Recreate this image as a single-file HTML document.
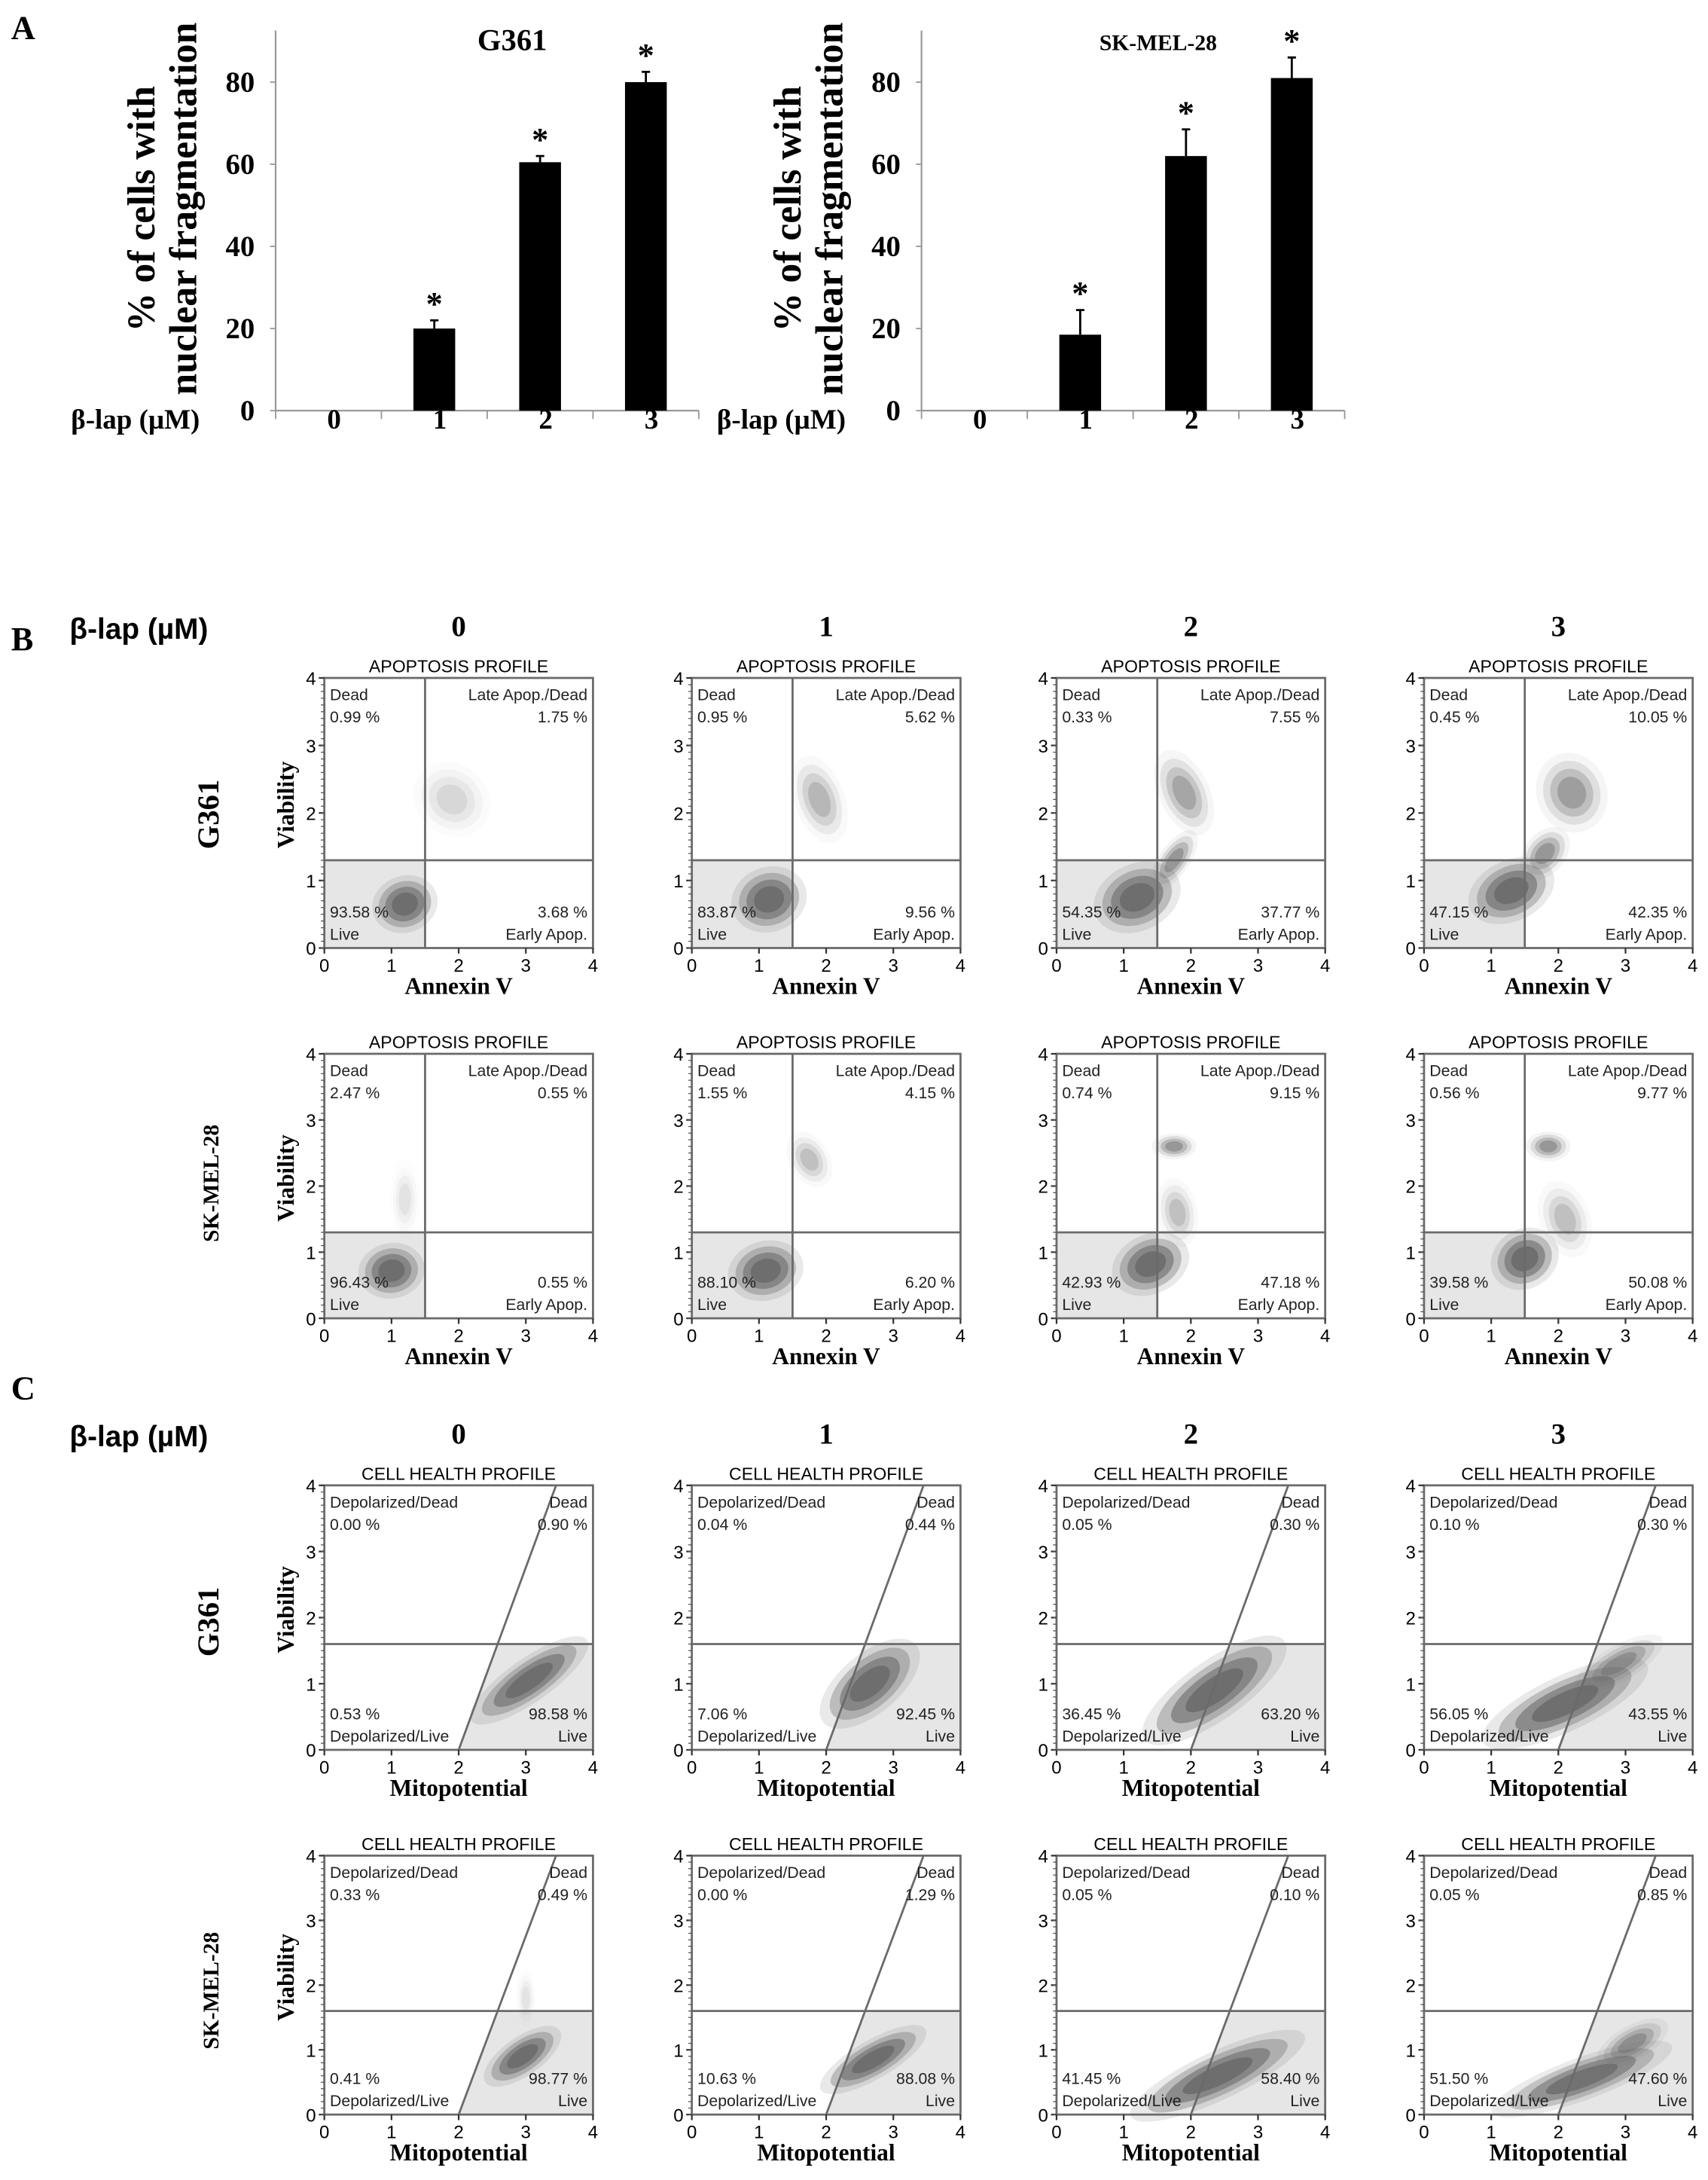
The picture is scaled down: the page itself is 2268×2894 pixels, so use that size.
<!DOCTYPE html>
<html><head><meta charset="utf-8">
<style>
html,body{margin:0;padding:0;background:#fff;}
svg{display:block;}
.ser{font-family:"Liberation Serif",serif;font-weight:bold;}
.sans{font-family:"Liberation Sans",sans-serif;}
</style></head>
<body>
<svg id="fig" xmlns="http://www.w3.org/2000/svg" width="2268" height="2894" viewBox="0 0 1227 1566" preserveAspectRatio="none">
<rect x="0" y="0" width="1227" height="1566" fill="#fff"/>
<text class="ser" x="8" y="28" font-size="24">A</text>
<text class="ser" x="8" y="467" font-size="24">B</text>
<text class="ser" x="8" y="1005" font-size="24">C</text>
<g id="root"></g>
</svg>
<script>
// ---- Panel A data ----
const barCats = ["0","1","2","3"];
const g361Vals = [0, 20, 60.5, 80];
const g361Errs = [0, 2, 1.5, 2.5];
const skVals = [0, 18.5, 62, 81];
const skErrs = [0, 6, 6.5, 5];
const barSig = [false, true, true, true];
const yTicks = [0, 20, 40, 60, 80];

// ---- Panel B (apoptosis) data ----
const doseLabels = ["0","1","2","3"];
const apoG361 = [["0.99","1.75","93.58","3.68"],["0.95","5.62","83.87","9.56"],["0.33","7.55","54.35","37.77"],["0.45","10.05","47.15","42.35"]];
const apoSK = [["2.47","0.55","96.43","0.55"],["1.55","4.15","88.10","6.20"],["0.74","9.15","42.93","47.18"],["0.56","9.77","39.58","50.08"]];
// clusters: [cx, cy, rx, ry, angleDeg, strength]
const apoG361Clusters = [
 [[1.2,0.65,0.33,0.28,20,1],[1.9,2.2,0.35,0.4,50,0.15]],
 [[1.15,0.72,0.38,0.32,20,1],[1.9,2.2,0.25,0.45,20,0.3]],
 [[1.2,0.75,0.45,0.33,25,1],[1.75,1.3,0.35,0.15,55,0.5],[1.9,2.3,0.25,0.45,25,0.4]],
 [[1.3,0.85,0.45,0.3,25,1],[1.8,1.4,0.3,0.2,50,0.5],[2.2,2.3,0.35,0.4,20,0.45]]];
const apoSKClusters = [
 [[1.0,0.72,0.33,0.28,10,1],[1.2,1.8,0.15,0.4,0,0.1]],
 [[1.1,0.72,0.38,0.3,15,1],[1.75,2.4,0.2,0.3,30,0.25]],
 [[1.4,0.82,0.4,0.3,25,1],[1.75,2.6,0.22,0.13,0,0.5],[1.8,1.6,0.2,0.35,10,0.25]],
 [[1.5,0.9,0.35,0.3,30,1],[1.85,2.6,0.22,0.15,0,0.5],[2.1,1.5,0.25,0.4,20,0.25]]];

// ---- Panel C (cell health) data ----
const chG361 = [["0.00","0.90","0.53","98.58"],["0.04","0.44","7.06","92.45"],["0.05","0.30","36.45","63.20"],["0.10","0.30","56.05","43.55"]];
const chSK = [["0.33","0.49","0.41","98.77"],["0.00","1.29","10.63","88.08"],["0.05","0.10","41.45","58.40"],["0.05","0.85","51.50","47.60"]];
const chG361Clusters = [
 [[3.05,1.05,0.7,0.22,35,1]],
 [[2.65,1.0,0.6,0.3,40,1]],
 [[2.35,0.9,0.85,0.3,35,1]],
 [[2.1,0.7,0.9,0.28,25,1],[2.9,1.3,0.5,0.18,30,0.5]]];
const chSKClusters = [
 [[2.95,0.9,0.45,0.2,35,1],[3.0,1.8,0.1,0.3,0,0.1]],
 [[2.7,0.85,0.6,0.2,30,1]],
 [[2.4,0.6,0.95,0.25,25,1]],
 [[2.35,0.55,0.95,0.22,20,0.9],[3.1,1.1,0.4,0.18,30,0.5]]];

const NS = "http://www.w3.org/2000/svg";
const root = document.getElementById("root");
function mk(tag, attrs, parent, txt){
  const e = document.createElementNS(NS, tag);
  for (const k in attrs) e.setAttribute(k, attrs[k]);
  if (txt !== undefined) e.textContent = txt;
  (parent||root).appendChild(e);
  return e;
}

// ---------- Bar charts ----------
function barChart(ax0, title, vals, errs, titleSize, nm){
  const g = mk("g", {});
  
  
  const y0 = 295, perU = 2.95, catW = 76;
  const ys = v => y0 - v*perU;
  const xc = i => ax0 + catW*(i+0.5);
  const yl = mk("line",{x1:ax0,y1:y0,x2:ax0,y2:22,stroke:"#999","stroke-width":1.2},g);
  
  
  const xl = mk("line",{x1:ax0,y1:y0,x2:ax0+catW*barCats.length,y2:y0,stroke:"#999","stroke-width":1.2},g);
  
  
  for (let i=0;i<=barCats.length;i++){
    mk("line",{x1:ax0+catW*i,y1:y0,x2:ax0+catW*i,y2:y0+6,stroke:"#999","stroke-width":1},g);
  }
  yTicks.forEach(t=>{
    mk("line",{x1:ax0-4,y1:ys(t),x2:ax0,y2:ys(t),stroke:"#999"},g);
    const tl = mk("text",{x:ax0-15,y:ys(t)+7,"text-anchor":"end","font-size":21,class:"ser"},g,String(t));
    
    
  });
  vals.forEach((v,i)=>{
    if (v>0){
      const b = mk("rect",{x:xc(i)-15,y:ys(v),width:30,height:v*perU,fill:"#000"},g);
      
      
      const e = mk("path",{d:`M${xc(i)},${ys(v)} V${ys(v+errs[i])} M${xc(i)-3},${ys(v+errs[i])} H${xc(i)+3}`,stroke:"#000","stroke-width":1.5,fill:"none"},g);
      
      
    }
    if (barSig[i]){
      const s = mk("text",{x:xc(i),y:ys(v+errs[i])-4,"text-anchor":"middle","font-size":24,class:"ser"},g,"*");
      
      
    }
    const cl = mk("text",{x:xc(i)+4,y:308,"text-anchor":"middle","font-size":20,class:"ser"},g,barCats[i]);
    
    
  });
  const tt = mk("text",{x:ax0+170,y:36,"text-anchor":"middle","font-size":titleSize,class:"ser"},g,title);
  
  
  const t1 = mk("text",{transform:`translate(${ax0-87},150) rotate(-90)`,"text-anchor":"middle","font-size":28,class:"ser"},g,"% of cells with");
  
  
  const t2 = mk("text",{transform:`translate(${ax0-57},150) rotate(-90)`,"text-anchor":"middle","font-size":28,class:"ser"},g,"nuclear fragmentation");
  
  
  const xl2 = mk("text",{x:ax0-147,y:308,"font-size":20,class:"ser"},g,"β-lap (µM)");
  
  
}
barChart(198,"G361",g361Vals,g361Errs,22,"bar-chart-g361");
barChart(662,"SK-MEL-28",skVals,skErrs,16,"bar-chart-sk-mel-28");

// ---------- Flow plots ----------
const colX = [233, 497, 759, 1023];
const plotW = 193;

function flowPlot(col, top, bot, kind, txts, clusters, nm){
  const g = mk("g",{});
  
  
  const L = colX[col], R = L+plotW, H = bot-top;
  const sx = v => L + v/4*plotW;
  const sy = v => bot - v/4*H;
  const gray = "#6a6a6a";
  if (kind==="apo"){
    const f = mk("rect",{x:L,y:sy(1.3),width:sx(1.5)-L,height:bot-sy(1.3),fill:"#e6e6e6"},g);
    
    
  } else {
    const xb = 2.0, xt = 3.45;
    const xAt = y => xb + (xt-xb)*y/4;
    const f = mk("polygon",{points:`${sx(xb)},${bot} ${R},${bot} ${R},${sy(1.6)} ${sx(xAt(1.6))},${sy(1.6)}`,fill:"#e6e6e6"},g);
    
    
  }
  const ops = [0.15, 0.35, 0.6, 0.85];
  clusters.forEach(c=>{
    const [cx,cy,rx,ry,ang,st] = c;
    const pxr = rx/4*plotW, pyr = ry/4*H;
    for (let k=0;k<4;k++){
      const f = 1.5 - k*0.3;
      const el = mk("ellipse",{cx:sx(cx),cy:sy(cy),rx:pxr*f,ry:pyr*f,transform:`rotate(${-ang} ${sx(cx)} ${sy(cy)})`,fill:gray,"fill-opacity":ops[k]*st},g);
      
      
    }
  });
  const fr = mk("rect",{x:L,y:top,width:plotW,height:H,fill:"none",stroke:gray,"stroke-width":1.5},g);
  
  
  if (kind==="apo"){
    mk("line",{x1:sx(1.5),y1:top,x2:sx(1.5),y2:bot,stroke:gray,"stroke-width":1.5},g);
    mk("line",{x1:L,y1:sy(1.3),x2:R,y2:sy(1.3),stroke:gray,"stroke-width":1.5},g);
  } else {
    mk("line",{x1:sx(2.0),y1:bot,x2:sx(3.45),y2:top,stroke:gray,"stroke-width":1.5},g);
    mk("line",{x1:L,y1:sy(1.6),x2:R,y2:sy(1.6),stroke:gray,"stroke-width":1.5},g);
  }
  for (let v=0; v<=4; v++){
    mk("line",{x1:L-4,y1:sy(v),x2:L,y2:sy(v),stroke:"#333","stroke-width":1.2},g);
    mk("line",{x1:sx(v),y1:bot,x2:sx(v),y2:bot+4,stroke:"#333","stroke-width":1.2},g);
    const yt = mk("text",{x:L-6,y:sy(v)+5,"text-anchor":"end","font-size":13,class:"sans"},g,String(v));
    
    
    const xt = mk("text",{x:sx(v),y:bot+17,"text-anchor":"middle","font-size":13,class:"sans"},g,String(v));
    
    
  }
  for (let v=0; v<40; v++){
    mk("line",{x1:L-2.5,y1:sy(v/10),x2:L,y2:sy(v/10),stroke:"#555","stroke-width":0.7},g);
  }
  const title = kind==="apo" ? "APOPTOSIS PROFILE" : "CELL HEALTH PROFILE";
  const tt = mk("text",{x:L+plotW/2,y:top-4,"text-anchor":"middle","font-size":12.5,class:"sans"},g,title);
  
  
  const xa = mk("text",{x:L+plotW/2,y:bot+33,"text-anchor":"middle","font-size":17,class:"ser"},g,kind==="apo"?"Annexin V":"Mitopotential");
  
  
  if (col===0){
    const ya = mk("text",{transform:`translate(${L-22},${top+H*0.47}) rotate(-90)`,"text-anchor":"middle","font-size":17,class:"ser"},g,"Viability");
    
    
  }
  const names = kind==="apo" ? ["Dead","Late Apop./Dead","Live","Early Apop."] : ["Depolarized/Dead","Dead","Depolarized/Live","Live"];
  const fs = 11.5;
  const q = [
    [L+4, top+16, "start", names[0]], [L+4, top+32, "start", txts[0]+" %"],
    [R-4, top+16, "end", names[1]], [R-4, top+32, "end", txts[1]+" %"],
    [L+4, bot-22, "start", txts[2]+" %"], [L+4, bot-6, "start", names[2]],
    [R-4, bot-22, "end", txts[3]+" %"], [R-4, bot-6, "end", names[3]]
  ];
  q.forEach(a=>{
    const t = mk("text",{x:a[0],y:a[1],"text-anchor":a[2],"font-size":fs,class:"sans",fill:"#222"},g,a[3]);
    
    
  });
}

const rowsB = [[487,681,apoG361,apoG361Clusters,"g361"],[757,947,apoSK,apoSKClusters,"sk-mel-28"]];
const rowsC = [[1067,1257,chG361,chG361Clusters,"g361"],[1333,1519,chSK,chSKClusters,"sk-mel-28"]];
rowsB.forEach(r=>{ for(let c=0;c<4;c++) flowPlot(c,r[0],r[1],"apo",r[2][c],r[3][c],"apoptosis-plot-"+r[4]+"-"+doseLabels[c]); });
rowsC.forEach(r=>{ for(let c=0;c<4;c++) flowPlot(c,r[0],r[1],"ch",r[2][c],r[3][c],"cell-health-plot-"+r[4]+"-"+doseLabels[c]); });

[[459,"b"],[1039,"c"]].forEach(h=>{
  const bl = mk("text",{x:50,y:h[0],"font-size":21,class:"sans","font-weight":"bold"},root,"β-lap (µM)");
  
  
  doseLabels.forEach((d,c)=>{
    const t = mk("text",{x:colX[c]+plotW/2,y:h[0]-2,"text-anchor":"middle","font-size":21,class:"ser"},root,d);
    
    
  });
});
[[585,"G361",22],[850,"SK-MEL-28",16],[1165,"G361",22],[1430,"SK-MEL-28",16]].forEach(r=>{
  const t = mk("text",{transform:`translate(157,${r[0]}) rotate(-90)`,"text-anchor":"middle","font-size":r[2],class:"ser"},root,r[1]);
  
  
});
</script>
</body></html>
